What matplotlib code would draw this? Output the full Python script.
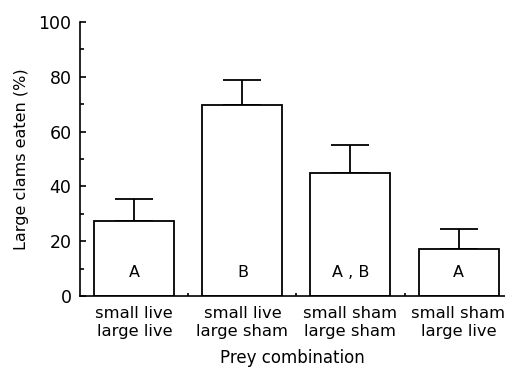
import matplotlib.pyplot as plt
import numpy as np

combos = ['small live\nlarge live', 'small live\nlarge sham',
          'small sham\nlarge sham', 'small sham\nlarge live']
eaten = [27.5, 69.7, 45.0, 17.0]
err_up = [7.8, 9.1, 10.0, 7.5]
groups = ['A', 'B', 'A , B', 'A']

plt.rcParams['font.family'] = ['DejaVu Sans']
fig = plt.figure(figsize=(5.05, 3.68), dpi=100)
ax = fig.add_axes([0.158, 0.1957, 0.842, 0.7446])

x = np.arange(len(eaten))
ax.bar(x, eaten, width=0.74, color='white', edgecolor='black', linewidth=1.3, zorder=2)
ax.errorbar(x, eaten, yerr=[np.zeros(len(eaten)), err_up], fmt='none',
            ecolor='black', elinewidth=1.3, capsize=13.7, capthick=1.3, zorder=1)
for xi, g in zip(x, groups):
    ax.text(xi, 8.5, g, ha='center', va='center', fontsize=11.5)

ax.set_xlim(-0.505, 3.43)
ax.set_ylim(0, 100)
ax.spines['top'].set_visible(False)
ax.spines['right'].set_visible(False)
ax.spines['left'].set_linewidth(1.2)
ax.spines['bottom'].set_linewidth(1.2)

ax.set_yticks(np.arange(0, 101, 20))
ax.set_yticks(np.arange(10, 100, 20), minor=True)
ax.set_xticks(x)
ax.set_xticklabels(combos, fontsize=11.8, linespacing=1.3)
ax.set_xticks([0.5, 1.5, 2.5], minor=True)
ax.tick_params(axis='y', which='major', direction='in', length=4.5, width=1.2, labelsize=12.5, pad=6)
ax.tick_params(axis='y', which='minor', direction='in', length=3, width=1.2)
ax.tick_params(axis='x', which='major', length=0, pad=7)
ax.tick_params(axis='x', which='minor', direction='in', length=2.5, width=1.2)

ax.set_ylabel('Large clams eaten (%)', fontsize=11.5, labelpad=7)
ax.set_xlabel('Prey combination', fontsize=12, labelpad=7)

plt.savefig('out.png', dpi=100)
